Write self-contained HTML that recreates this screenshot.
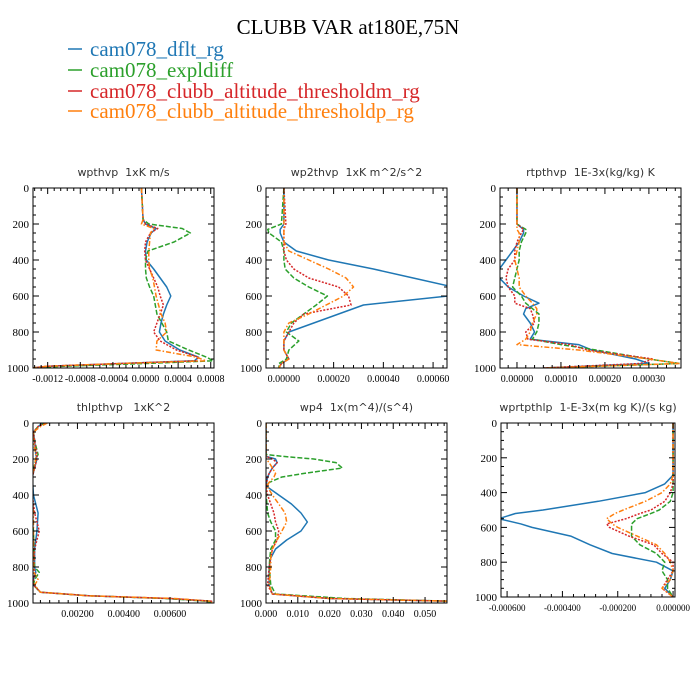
<!DOCTYPE html>
<html><head><meta charset="utf-8"><style>
html,body{margin:0;padding:0;background:#fff;}
svg{display:block;}
</style></head><body>
<svg id="chart" xmlns="http://www.w3.org/2000/svg" width="700" height="700" viewBox="0 0 700 700">
<rect width="700" height="700" fill="#fff"/>
<text x="348" y="34" text-anchor="middle" font-family="Liberation Serif, serif" font-size="21" fill="#000">CLUBB VAR at180E,75N</text>
<g font-family="Liberation Serif, serif" font-size="21">
<g><line x1="68" y1="49" x2="82" y2="49" stroke="#1f77b4" stroke-width="1.5"/><text x="90" y="56" fill="#1f77b4">cam078_dflt_rg</text></g>
<g><line x1="68" y1="70" x2="82" y2="70" stroke="#2ca02c" stroke-width="1.5"/><text x="90" y="77" fill="#2ca02c">cam078_expldiff</text></g>
<g><line x1="68" y1="91" x2="82" y2="91" stroke="#d62728" stroke-width="1.5"/><text x="90" y="98" fill="#d62728">cam078_clubb_altitude_thresholdm_rg</text></g>
<g><line x1="68" y1="111" x2="82" y2="111" stroke="#ff7f0e" stroke-width="1.5"/><text x="90" y="118" fill="#ff7f0e">cam078_clubb_altitude_thresholdp_rg</text></g>
</g>
</svg>
<script>
const p1Levels=[0,175,200,225,250,300,350,400,450,500,550,600,650,700,750,800,850,900,940,960,975,990,1000];
const p1Blue=[-0.5,-0.3,0,1.3,0.7,0.2,0,0.1,1.0,1.8,2.6,3.1,2.6,2.2,1.9,1.7,2.4,4.2,6.5,6.0,-3,-12,-14];
const p1Green=[-0.5,-0.3,0.4,4.5,5.5,3.5,0.3,0,0,0.1,0.5,1,1.2,1.4,2,2.6,2.8,5.3,7.5,8.3,0,-10,-14];
const p1Red=[-0.5,-0.3,0,1.5,0.6,0,-0.1,0,0.5,1.0,1.5,1.8,2.2,1.8,1.4,1.0,1.8,3.8,6.5,6.2,-3,-12,-14];
const p1Orange=[-0.5,-0.3,-0.5,1.0,0.6,0.5,0.4,0.4,0.5,0.9,1.1,1.3,1.6,1.9,2.4,2.6,1.4,1.3,6.3,7.4,-3,-12,-14];
const p1Ticks=["-0.0012","-0.0008","-0.0004","0.0000","0.0004","0.0008"];

const p2Levels=[0,200,230,250,300,350,400,450,500,550,600,650,700,750,800,850,900,950,975,1000];
const p2Blue=[0,0,-1.5,-1.5,0,5,18,36,52,68,66,32,22,12,2,0,0,2,-1,-2];
const p2Green=[0,-1,-6.5,-6,-1,0,0,0.5,4,10,17.5,13,8,3,1,6,2,1,-2,-2];
const p2Red=[0,0.8,0,0,0,0,1,4,10,22,26,27,8,4,2,0,0,2,-1,-2];
const p2Orange=[0,0,0,0,0,2,10,18,25,28,24,17,10,2,0,0,0,2,-1,-2];
const p2Ticks=["0.00000","0.00020","0.00040","0.00060"];

const p3Levels=[0,200,230,250,300,350,400,450,500,550,600,640,670,700,750,800,840,870,900,950,975,1000];
const p3Blue=[0,0,1.5,1.5,0.5,-1,-2.5,-4,-4,-2,1.5,5,2,1.5,3,4,3,14,17,27,30,6];
const p3Green=[0,0,2,2,1,0.5,0.5,0,-0.5,-1,1,2,3.5,5,5,4.5,3.5,10,18,30,37,6];
const p3Red=[0,0,1.5,1,0,-0.5,-0.5,-2,-2.5,-2,-0.5,-0.5,3,3.5,4,2,2.5,12,16,31,28,6];
const p3Orange=[0,0,0,0.5,0.5,0,-0.5,0,0.5,0.5,2,3.5,4.5,4.5,3.5,3,2,0,14,30,37,6];
const p3Ticks=["0.00000","0.00010","0.00020","0.00030"];

const p4Levels=[0,20,50,100,175,200,300,400,500,600,700,800,830,870,900,940,960,975,990,1000];
const p4Blue=[5,3,1,1.5,2,2.5,0.5,1,3,2.5,1.5,1.5,2,1,1,4,25,60,78,78];
const p4Green=[6,3,1,1.5,3,2,0.5,0.3,0.3,1,1.2,1.5,3.5,1.5,1,4,25,58,76,78];
const p4Red=[6,3,1,1.5,2.5,2.5,0.5,0.5,1.5,3.5,1.5,1.2,1.5,1,1,4,25,60,78,78];
const p4Orange=[7,4,1,1,2,2,0.5,0.5,1,1,1,1,1.2,3,1.5,4,25,62,78,78];
const p4Ticks=["0.00200","0.00400","0.00600"];

const p5Levels=[0,175,185,200,220,250,280,300,330,350,400,450,500,550,600,650,700,750,800,900,950,975,990,1000];
const p5Blue=[0,0,0,3,3.5,2,1,0.5,0.2,0,4,8,11,13,11,6.5,3,1.5,1,1,2,20,58,58];
const p5Green=[0,0,5,15,22,24,12,5,1,0,0,0.3,0.5,1.5,3,3,1.5,1.2,1,1.5,3,25,58,58];
const p5Red=[0,0,0,2,3.5,2,1,0.5,0.2,0,0.5,1.5,2.5,3,4,3.5,2,1.5,1,0.5,2,20,58,58];
const p5Orange=[0,0,0,0,1,2,3,2.5,1,0.3,2,4,6,6.5,5,3.5,2,1.5,1.5,1,2,20,58,58];
const p5Ticks=["0.000","0.010","0.020","0.030","0.040","0.050"];

const p6Levels=[0,300,350,400,450,500,520,550,580,600,650,700,750,800,850,900,950,1000];
const p6Blue=[0,0,-0.3,-1,-2.7,-4.7,-5.7,-6.3,-5.5,-5.1,-3.7,-3.0,-2.2,-0.6,0,-0.1,-0.3,0];
const p6Green=[0,0,0,0,-0.1,-0.5,-0.8,-1.3,-1.5,-1.5,-1.5,-1.2,-0.6,-0.3,-0.4,-0.2,-0.2,0];
const p6Red=[0,0,0,-0.1,-0.3,-0.8,-1.2,-1.7,-2.4,-2.3,-1.6,-0.7,-0.4,0,0,-0.2,-0.4,0];
const p6Orange=[0,0,-0.1,-0.4,-1.0,-1.8,-2.1,-2.4,-2.2,-2.0,-1.3,-0.6,-0.3,-0.1,0,-0.1,-0.4,0];
const p6Ticks=["-0.000600","-0.000400","-0.000200","0.000000"];

const yTicks=[0,200,400,600,800,1000];

const NS="http://www.w3.org/2000/svg";
const svg=document.getElementById('chart');
function mk(tag,attrs,parent){const e=document.createElementNS(NS,tag);for(const k in attrs)e.setAttribute(k,attrs[k]);(parent||svg).appendChild(e);return e;}

const styles=[
 {name:'dflt',color:'#1f77b4',dash:''},
 {name:'expldiff',color:'#2ca02c',dash:'5,2'},
 {name:'thresholdm',color:'#d62728',dash:'2,1.5'},
 {name:'thresholdp',color:'#ff7f0e',dash:'5,2,1.5,2'}
];

const panels=[
 {id:'wpthvp',title:'wpthvp  1xK m/s',L:33,R:214,T:188,B:368,xmin:-0.00138,xmax:0.00084,scale:1e-4,lev:p1Levels,ser:[p1Blue,p1Green,p1Red,p1Orange],ticks:p1Ticks,major:0.0004,minorN:4,fs:10},
 {id:'wp2thvp',title:'wp2thvp  1xK m^2/s^2',L:266,R:447,T:188,B:368,xmin:-0.000072,xmax:0.000656,scale:1e-5,lev:p2Levels,ser:[p2Blue,p2Green,p2Red,p2Orange],ticks:p2Ticks,major:0.0002,minorN:4,fs:10},
 {id:'rtpthvp',title:'rtpthvp  1E-3x(kg/kg) K',L:500,R:681,T:188,B:368,xmin:-0.0000386,xmax:0.000373,scale:1e-5,lev:p3Levels,ser:[p3Blue,p3Green,p3Red,p3Orange],ticks:p3Ticks,major:0.0001,minorN:4,fs:10},
 {id:'thlpthvp',title:'thlpthvp   1xK^2',L:33,R:214,T:423,B:603,xmin:0.00008,xmax:0.0079,scale:1e-4,lev:p4Levels,ser:[p4Blue,p4Green,p4Red,p4Orange],ticks:p4Ticks,major:0.002,minorN:4,fs:10},
 {id:'wp4',title:'wp4  1x(m^4)/(s^4)',L:266,R:447,T:423,B:603,xmin:0,xmax:0.0569,scale:1e-3,lev:p5Levels,ser:[p5Blue,p5Green,p5Red,p5Orange],ticks:p5Ticks,major:0.01,minorN:4,fs:10},
 {id:'wprtpthlp',title:'wprtpthlp  1-E-3x(m kg K)/(s kg)',L:501,R:675,T:423,B:597,xmin:-0.000622,xmax:0.000007,scale:1e-4,lev:p6Levels,ser:[p6Blue,p6Green,p6Red,p6Orange],ticks:p6Ticks,major:0.0002,minorN:4,fs:9}
];

panels.forEach(function(p,pi){
 const g=mk('g',{});
 
 
 const xs=function(v){return p.L+(v-p.xmin)/(p.xmax-p.xmin)*(p.R-p.L);};
 const ys=function(v){return p.T+v/1000*(p.B-p.T);};
 const t=mk('text',{x:(p.L+p.R)/2,y:p.T-12,'text-anchor':'middle','font-family':'DejaVu Sans, sans-serif','font-size':'11',fill:'#333',style:'white-space:pre'},g);
 t.textContent=p.title;
 
 
 const cid='clip'+pi;
 const cp=mk('clipPath',{id:cid},g);
 mk('rect',{x:p.L,y:p.T,width:p.R-p.L,height:p.B-p.T},cp);
 const lg=mk('g',{'clip-path':'url(#'+cid+')'},g);
 p.ser.forEach(function(vals,si){
  const st=styles[si];
  let d='';
  vals.forEach(function(v,i){d+=(i?'L':'M')+xs(v*p.scale).toFixed(2)+','+ys(p.lev[i]).toFixed(2);});
  const path=mk('path',{d:d,fill:'none',stroke:st.color,'stroke-width':'1.5','stroke-dasharray':st.dash,'stroke-linejoin':'round'},lg);
  
  
 });
 const frame=mk('rect',{x:p.L,y:p.T,width:p.R-p.L,height:p.B-p.T,fill:'none',stroke:'#000','stroke-width':'1'},g);
 
 
 for(let v=0;v<=1000;v+=50){
  const y=ys(v),len=(v%200===0)?6:3;
  mk('line',{x1:p.L,y1:y,x2:p.L+len,y2:y,stroke:'#000','stroke-width':'1'},g);
  mk('line',{x1:p.R,y1:y,x2:p.R-len,y2:y,stroke:'#000','stroke-width':'1'},g);
 }
 yTicks.forEach(function(v){
  const tl=mk('text',{x:p.L-4,y:ys(v)+4,'text-anchor':'end','font-family':'Liberation Serif, serif','font-size':'11',fill:'#000'},g);
  tl.textContent=String(v);
  
  
 });
 const minor=p.major/(p.minorN+1);
 const start=Math.ceil(p.xmin/minor-1e-6);
 for(let k=start;k*minor<=p.xmax+1e-12;k++){
  const v=k*minor,x=xs(v);
  const isMaj=Math.abs(v/p.major-Math.round(v/p.major))<1e-6;
  const len=isMaj?6:3;
  mk('line',{x1:x,y1:p.B,x2:x,y2:p.B-len,stroke:'#000','stroke-width':'1'},g);
  mk('line',{x1:x,y1:p.T,x2:x,y2:p.T+len,stroke:'#000','stroke-width':'1'},g);
 }
 p.ticks.forEach(function(s){
  const v=parseFloat(s);
  const tl=mk('text',{x:xs(v),y:p.B+14,'text-anchor':'middle','font-family':'Liberation Serif, serif','font-size':p.fs,fill:'#000'},g);
  tl.textContent=s;
  
  
 });
});
</script>
</body></html>
